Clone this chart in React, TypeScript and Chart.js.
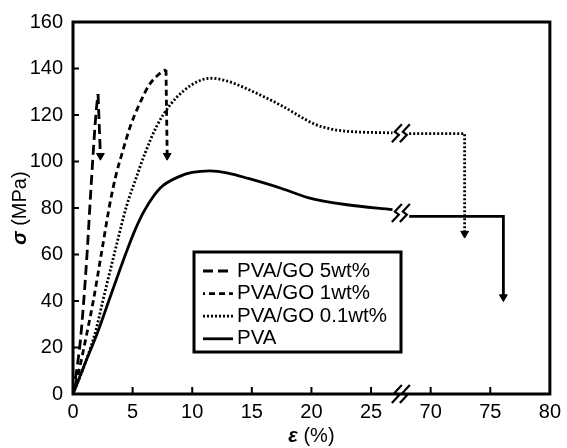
import React, { useEffect, useRef } from 'react';
import { Chart, registerables } from 'chart.js';

Chart.register(...registerables);

const FONT = '"Liberation Sans", Arial, sans-serif';

// ---- data (real strain %, stress MPa) ----
const GO5_X = [0, 0.3, 0.6, 0.9, 1.2, 1.5, 1.75, 1.95, 2.1];
const GO5_Y = [0, 10, 22, 40, 62, 88, 108, 122, 129];
const GO5_DROP_X = [2.1, 2.3];
const GO5_DROP_Y = [129, 102.5];

const GO1_X = [0, 0.5, 1.0, 1.7, 2.4, 3.1, 3.6, 4.2, 4.8, 5.6, 6.4, 7.2, 7.8];
const GO1_Y = [0, 10, 22, 40, 61, 82, 94, 105, 115, 125, 133, 137.5, 139.5];
const GO1_DROP_X = [7.8, 7.9];
const GO1_DROP_Y = [139.5, 102.5];

const GO01_X = [0, 1.0, 1.9, 2.5, 3.5, 4.5, 5.3, 6.0, 7.0, 8.1, 9.3, 10.5, 11.5, 12.8, 14.7, 17.5, 20.3, 21.6, 23.0, 26.8];
const GO01_Y = [0, 13, 27, 40, 61, 81, 93, 103, 115, 124, 130.5, 134.5, 135.8, 134.8, 131, 124, 116, 114, 113, 112.3];
const GO01_TAIL_X = [68.2, 72.85, 72.85];
const GO01_TAIL_Y = [112, 112, 69];

const PVA_X = [0, 1.0, 2.1, 3.0, 4.4, 5.2, 6.0, 7.3, 8.9, 10.0, 11.5, 13.0, 14.7, 17.5, 19.7, 23.0, 26.8];
const PVA_Y = [0, 13, 27, 40, 60, 70.5, 79, 88.5, 93.5, 95.3, 96, 95, 92.7, 88.4, 84.5, 81.4, 79.3];
const PVA_TAIL_X = [68.2, 76.1, 76.1];
const PVA_TAIL_Y = [76.4, 76.4, 41.7];

const Y_TICKS = [0, 20, 40, 60, 80, 100, 120, 140, 160];
const X_TICK_POS = [0, 5, 10, 15, 20, 25, 30, 35, 40];
const BREAK_POS = 27.5;
const BREAK_OFFSET = 40; // axis break: real 70..80 shown at 30..40
const BREAK_Y = [112.1, 77.8];

const LEGEND_LABELS = ['PVA/GO 5wt%', 'PVA/GO 1wt%', 'PVA/GO 0.1wt%', 'PVA'];
const DASH_5 = [10, 5];
const DASH_1 = [6, 4];
const DASH_01 = [2, 2];
const DASH_PVA: number[] = [];
const LEGEND_DASHES = [DASH_5, DASH_1, DASH_01, DASH_PVA];
const LEGEND_OFFSETS = [0, 4, 0, 0];

const toAxis = (x: number) => (x >= 40 ? x - BREAK_OFFSET : x);
const pts = (xs: number[], ys: number[]) => xs.map((x, i) => ({ x: toAxis(x), y: ys[i] }));

const LW = 2.8;

function curve(xs: number[], ys: number[], dash: number[]) {
  return {
    data: pts(xs, ys),
    borderColor: '#000',
    borderWidth: LW,
    borderDash: dash,
    cubicInterpolationMode: 'monotone',
    pointRadius: 0,
    fill: false,
  };
}

function drop(xs: number[], ys: number[], dash: number[]) {
  const n = xs.length;
  return {
    data: pts(xs, ys),
    borderColor: '#000',
    borderWidth: LW,
    borderDash: dash,
    tension: 0,
    fill: false,
    pointStyle: 'triangle',
    rotation: 180,
    pointRadius: (c: any) => (c.dataIndex === n - 1 ? 4.5 : 0),
    pointBackgroundColor: '#000',
    pointBorderColor: '#000',
    pointBorderWidth: 1,
  };
}

function zig(ctx: CanvasRenderingContext2D, cx: number, cy: number) {
  ctx.save();
  ctx.strokeStyle = '#000';
  ctx.lineWidth = 2.2;
  ctx.setLineDash([]);
  for (const dx of [-4, 4]) {
    ctx.beginPath();
    ctx.moveTo(cx + dx + 5, cy - 9);
    ctx.lineTo(cx + dx - 2, cy - 1.5);
    ctx.lineTo(cx + dx + 2, cy + 1.5);
    ctx.lineTo(cx + dx - 5, cy + 9);
    ctx.stroke();
  }
  ctx.restore();
}

const decor = {
  id: 'decor',
  afterDraw(chart: any) {
    const { ctx, chartArea: a, scales } = chart;
    const xs = scales.x;
    const ys = scales.y;
    ctx.save();
    ctx.setLineDash([]);
    ctx.strokeStyle = '#000';
    // frame
    ctx.lineWidth = 3;
    ctx.strokeRect(a.left, a.top, a.right - a.left, a.bottom - a.top);
    // inward ticks
    ctx.lineWidth = 2;
    for (const v of Y_TICKS) {
      if (v === 0 || v === 160) continue;
      const py = ys.getPixelForValue(v);
      ctx.beginPath();
      ctx.moveTo(a.left, py);
      ctx.lineTo(a.left + 6, py);
      ctx.stroke();
    }
    for (const v of X_TICK_POS) {
      if (v === 0 || v === 40) continue;
      const px = xs.getPixelForValue(v);
      ctx.beginPath();
      ctx.moveTo(px, a.bottom);
      ctx.lineTo(px, a.bottom - 7);
      ctx.stroke();
    }
    // breaks
    const bx = xs.getPixelForValue(BREAK_POS);
    zig(ctx, bx, ys.getPixelForValue(0));
    for (const v of BREAK_Y) zig(ctx, bx, ys.getPixelForValue(v));

    // legend
    const L = 194, T = 252, W = 207, H = 100;
    ctx.fillStyle = '#fff';
    ctx.fillRect(L, T, W, H);
    ctx.lineWidth = 3;
    ctx.strokeRect(L, T, W, H);
    ctx.font = `20.5px ${FONT}`;
    ctx.fillStyle = '#000';
    ctx.textBaseline = 'middle';
    ctx.textAlign = 'left';
    LEGEND_LABELS.forEach((lab, i) => {
      const yy = 271 + i * 22.6;
      ctx.save();
      ctx.lineWidth = LW;
      ctx.setLineDash(LEGEND_DASHES[i]);
      ctx.lineDashOffset = LEGEND_OFFSETS[i];
      ctx.beginPath();
      ctx.moveTo(203, yy);
      ctx.lineTo(233, yy);
      ctx.stroke();
      ctx.restore();
      ctx.fillText(lab, 237, yy);
    });

    // axis titles with mixed fonts
    const bi = `italic bold 20px ${FONT}`;
    const rg = `20px ${FONT}`;
    const drawMixed = (sym: string, rest: string, cx: number, cy: number, rot: number) => {
      ctx.save();
      ctx.translate(cx, cy);
      ctx.rotate(rot);
      ctx.font = bi;
      const w1 = ctx.measureText(sym).width;
      ctx.font = rg;
      const w2 = ctx.measureText(rest).width;
      const x0 = -(w1 + w2) / 2;
      ctx.textAlign = 'left';
      ctx.textBaseline = 'middle';
      ctx.font = bi;
      ctx.fillText(sym, x0, 0);
      ctx.font = rg;
      ctx.fillText(rest, x0 + w1, 0);
      ctx.restore();
    };
    drawMixed('ε', ' (%)', (a.left + a.right) / 2, 436, 0);
    drawMixed('σ', ' (MPa)', 20, (a.top + a.bottom) / 2, -Math.PI / 2);
    ctx.restore();
  },
};

export default function App() {
  const ref = useRef<HTMLCanvasElement>(null);
  useEffect(() => {
    const chart = new Chart(ref.current as HTMLCanvasElement, {
      type: 'line',
      data: {
        datasets: [
          curve(GO5_X, GO5_Y, DASH_5),
          drop(GO5_DROP_X, GO5_DROP_Y, DASH_5),
          curve(GO1_X, GO1_Y, DASH_1),
          drop(GO1_DROP_X, GO1_DROP_Y, DASH_1),
          curve(GO01_X, GO01_Y, DASH_01),
          drop(GO01_TAIL_X, GO01_TAIL_Y, DASH_01),
          curve(PVA_X, PVA_Y, DASH_PVA),
          drop(PVA_TAIL_X, PVA_TAIL_Y, DASH_PVA),
        ] as any,
      },
      options: {
        responsive: false,
        animation: false,
        devicePixelRatio: 1,
        layout: { padding: { top: 19, right: 14, left: 0, bottom: 0 } },
        plugins: { legend: { display: false }, tooltip: { enabled: false } },
        scales: {
          x: {
            type: 'linear',
            min: 0,
            max: 40,
            afterFit: (s: any) => { s.height = 54; },
            afterBuildTicks: (s: any) => { s.ticks = X_TICK_POS.map((v) => ({ value: v })); },
            ticks: {
              stepSize: 5,
              autoSkip: false,
              maxRotation: 0,
              padding: 6,
              color: '#000',
              font: { family: FONT, size: 20 },
              callback: (v: any) => String(Number(v) >= 30 ? Number(v) + BREAK_OFFSET : v),
            },
            grid: { display: false, drawTicks: false },
            border: { display: false },
          },
          y: {
            type: 'linear',
            min: 0,
            max: 160,
            afterFit: (s: any) => { s.width = 73; },
            ticks: {
              stepSize: 20,
              padding: 10,
              color: '#000',
              font: { family: FONT, size: 20 },
            },
            grid: { display: false, drawTicks: false },
            border: { display: false },
          },
        },
      } as any,
      plugins: [decor],
    });
    return () => chart.destroy();
  }, []);
  return (
    <div style={{ position: 'fixed', left: 0, top: 0, width: 567, height: 448, background: '#fff' }}>
      <canvas ref={ref} width={567} height={448} style={{ width: 567, height: 448, display: 'block' }} />
    </div>
  );
}
